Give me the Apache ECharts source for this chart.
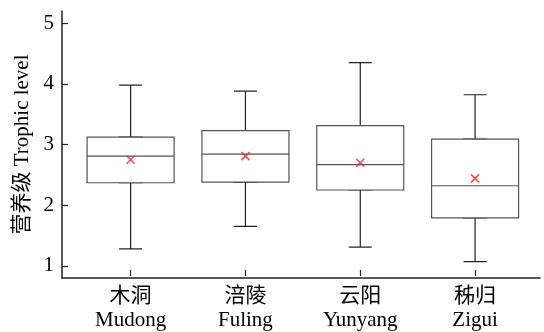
<!DOCTYPE html>
<html><head><meta charset="utf-8">
<script src="https://cdn.jsdelivr.net/npm/echarts@6/dist/echarts.min.js"></script>
<style>html,body{margin:0;padding:0;background:#fff}#c{width:544px;height:332px}</style>
</head><body><div id="c"></div>
<script>
const categories = ['木洞\nMudong', '涪陵\nFuling', '云阳\nYunyang', '秭归\nZigui'];
const mins    = [1.28, 1.65, 1.31, 1.07];
const q1s     = [2.37, 2.38, 2.25, 1.79];
const medians = [2.81, 2.84, 2.67, 2.32];
const q3s     = [3.12, 3.23, 3.31, 3.09];
const maxs    = [3.98, 3.88, 4.35, 3.82];
const means   = [2.73, 2.79, 2.68, 2.42];
const yTicks  = [1, 2, 3, 4, 5];

const FONT = "'Liberation Serif', 'Noto Sans CJK SC', serif";
const whiskerData = categories.map((c, i) => [mins[i], q1s[i], q1s[i], q3s[i], maxs[i]]);
const boxData = categories.map((c, i) => [q1s[i], q1s[i], medians[i], q3s[i], q3s[i]]);
const meanData = categories.map((c, i) => [i, means[i]]);

const hiddenCat = (idx) => ({gridIndex: idx, type: 'category', data: categories, boundaryGap: true, show: false,
  axisLine: {show: false}, axisTick: {show: false}, axisLabel: {show: false}, splitLine: {show: false}});
const hiddenVal = (idx) => ({gridIndex: idx, type: 'value', min: 0.8, max: 5.2, show: false, splitLine: {show: false}});
const g = {left: 73.2, right: 11.5, top: 11, bottom: 54};

const chart = echarts.init(document.getElementById('c'), null, {renderer: 'canvas'});
chart.setOption({
  animation: false,
  backgroundColor: '#fff',
  textStyle: {fontFamily: FONT},
  grid: [
    {left: 62, right: 4, top: 11, bottom: 54},
    Object.assign({}, g),
    Object.assign({}, g),
    Object.assign({}, g)
  ],
  xAxis: [
    {gridIndex: 0, type: 'value', min: 0, max: 1, axisLine: {show: true, onZero: false, lineStyle: {color: '#222', width: 1.5}},
     axisTick: {show: false}, axisLabel: {show: false}, splitLine: {show: false}},
    {gridIndex: 1, type: 'category', data: categories, boundaryGap: true,
     axisLine: {show: false},
     axisTick: {show: true, inside: true, alignWithLabel: true, length: 6, lineStyle: {color: '#222', width: 1.2}},
     axisLabel: {color: '#000', fontFamily: FONT, fontSize: 21, lineHeight: 24, margin: 8, interval: 0},
     splitLine: {show: false}},
    hiddenCat(2),
    hiddenCat(3)
  ],
  yAxis: [
    {gridIndex: 0, type: 'value', min: 0.8, max: 5.2,
     axisLine: {show: true, onZero: false, lineStyle: {color: '#222', width: 1.5}},
     axisTick: {show: true, inside: true, length: 6, customValues: yTicks, lineStyle: {color: '#222', width: 1.2}},
     axisLabel: {color: '#000', fontFamily: FONT, fontSize: 21, margin: 8, customValues: yTicks},
     splitLine: {show: false},
     name: '营养级 Trophic level', nameLocation: 'middle', nameGap: 24,
     nameTextStyle: {color: '#000', fontFamily: FONT, fontSize: 21}},
    hiddenVal(1),
    hiddenVal(2),
    hiddenVal(3)
  ],
  series: [
    {type: 'boxplot', xAxisIndex: 2, yAxisIndex: 2, data: whiskerData, boxWidth: [23, 23], z: 2,
     itemStyle: {color: '#fff', borderColor: '#222', borderWidth: 1.2}, emphasis: {disabled: true}, silent: true},
    {type: 'boxplot', xAxisIndex: 3, yAxisIndex: 3, data: boxData, boxWidth: [87, 87], z: 3,
     itemStyle: {color: '#fff', borderColor: '#555', borderWidth: 1.2}, emphasis: {disabled: true}, silent: true},
    {type: 'scatter', xAxisIndex: 1, yAxisIndex: 1, data: meanData, z: 5,
     symbol: 'path://M0,0L10,10M10,0L0,10', symbolSize: 8,
     itemStyle: {color: 'rgba(0,0,0,0)', borderColor: '#e0242a', borderWidth: 1.6}, emphasis: {disabled: true}, silent: true}
  ]
});
</script></body></html>
